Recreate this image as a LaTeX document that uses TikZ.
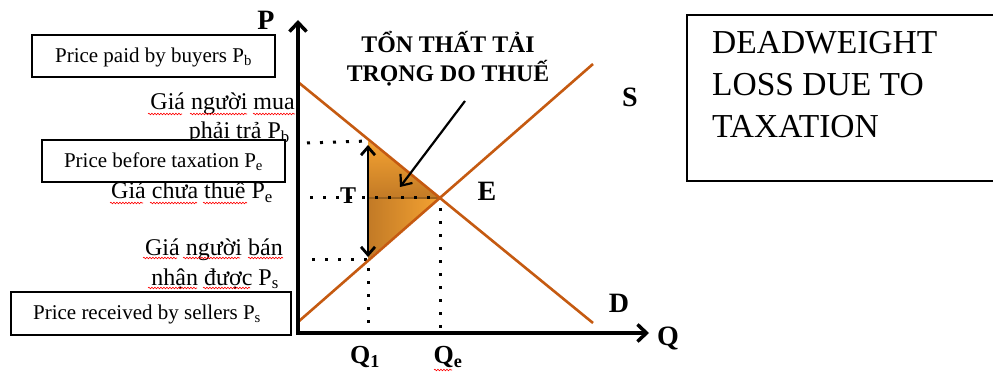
\documentclass[tikz,border=0pt]{standalone}
\usepackage{fontspec}
\setmainfont{Liberation Serif}
\usetikzlibrary{arrows.meta,decorations.pathmorphing}
\definecolor{curve}{HTML}{C55A11}
\definecolor{fillhi}{HTML}{F5A332}
\definecolor{filllo}{HTML}{C27A26}
\tikzset{
  labelbox/.style={draw=black, line width=1.3pt, fill=white},
  axisline/.style={line width=3.5pt, -{Straight Barb[length=9pt,width=17pt,line width=3.5pt]}},
  curveline/.style={draw=curve, line width=2.6pt},
  dotline/.style={line width=3pt, dash pattern=on 3pt off 10pt},
  viet/.style={font=\fontsize{24}{28}\selectfont, inner sep=0pt},
  boxtxt/.style={font=\fontsize{21}{25}\selectfont},
  biglbl/.style={font=\fontsize{28}{32}\selectfont\bfseries, inner sep=0pt},
  squig/.style={draw=red, line width=0.6pt, decorate, decoration={snake, amplitude=0.8pt, segment length=3pt}},
}
\begin{document}
\begin{tikzpicture}[x=1pt,y=-1pt]
\useasboundingbox (0,0) rectangle (993,374);

% key points
\coordinate (O) at (298,333);
\coordinate (Ptop) at (298,20);
\coordinate (Qend) at (649,333);
\coordinate (Dstart) at (298,82);
\coordinate (Dend) at (593,323);
\coordinate (Sstart) at (298,322);
\coordinate (Send) at (593,64);
\coordinate (E) at (440,198);
\coordinate (Pb) at (368,141);
\coordinate (Ps) at (368,259);
\coordinate (Tm) at (368,198);

% Vietnamese texts (drawn first, boxes cover them)
\node[viet, anchor=base east] (vm1) at (295,110) {Giá người mua};
\node[viet, anchor=base east] (vm2) at (290,139) {phải trả P\textsubscript{b}};
\node[viet, anchor=base east] (vc) at (273,199) {Giá chưa thuế P\textsubscript{e}};
\node[viet, anchor=base east] (vb1) at (283,255) {Giá người bán};
\node[viet, anchor=base east] (vb2) at (279,285) {nhận được P\textsubscript{s}};

% spell-check squiggles
\draw[squig] (148,114) -- (182,114);
\draw[squig] (190,114) -- (247,114);
\draw[squig] (253,114) -- (295,114);
\draw[squig] (110,203) -- (143,203);
\draw[squig] (150,203) -- (197,203);
\draw[squig] (203,203) -- (247,203);
\draw[squig] (143,258) -- (177,258);
\draw[squig] (183,258) -- (240,258);
\draw[squig] (248,258) -- (283,258);
\draw[squig] (148,288) -- (197,288);
\draw[squig] (203,288) -- (250,288);
\draw[squig] (434,370) -- (452,370);

% English boxes
\draw[labelbox] (32,35) rectangle (275,77);
\node[boxtxt] (eb) at (153.5,57) {Price paid by buyers P\textsubscript{b}};
\draw[labelbox] (42,140) rectangle (285,182);
\node[boxtxt] (ee) at (163.5,162) {Price before taxation P\textsubscript{e}};
\draw[labelbox] (11,292) rectangle (291,335);
\node[boxtxt] (es) at (147,314) {Price received by sellers P\textsubscript{s}};

\draw[labelbox] (687,15) rectangle (1000,181);
\node[font=\fontsize{33.5}{42}\selectfont, align=left, anchor=north west, inner sep=0pt] (dw) at (712,31) {DEADWEIGHT\\LOSS DUE TO\\TAXATION};

% deadweight triangle
\shade[top color=fillhi, bottom color=filllo] (Pb) -- (E) -- (Tm) -- cycle;
\shade[left color=filllo, right color=fillhi] (Tm) -- (E) -- (Ps) -- cycle;
\draw[color=filllo!80!black, line width=1.5pt] (Tm) -- (E);

% dotted guides
\draw[dotline] (307,143) -- (Pb);
\draw[dotline] (310,198) -- (E);
\draw[dotline] (312,259) -- (Ps);
\draw[dotline] (368,268) -- (368,333);
\draw[dotline] (440,208) -- (440,333);

% curves
\draw[curveline] (Dstart) -- (Dend);
\draw[curveline] (Sstart) -- (Send);

% axes
\draw[axisline] (298,334.75) -- (Ptop);
\draw[axisline] (296.25,333) -- (Qend);

% tax arrow
\draw[line width=2.8pt, {Straight Barb[length=8pt,width=14pt,line width=2.8pt]}-{Straight Barb[length=8pt,width=14pt,line width=2.8pt]}] (368,145) -- (368,257);

% title and pointer
\node[font=\fontsize{23.8}{29}\selectfont\bfseries, align=center] (title) at (448,59) {TỔN THẤT TẢI\\TRỌNG DO THUẾ};
\coordinate (ptr) at (465,101);
\draw[line width=2.2pt, -{Straight Barb[length=9pt,width=15pt,line width=2.2pt]}] (ptr) -- (400,187);

% labels
\node[biglbl] (lP) at (266,20) {P};
\node[biglbl] (lQ) at (668,338) {Q};
\node[biglbl] (lS) at (630,97) {S};
\node[biglbl] (lD) at (619,303) {D};
\node[biglbl] (lE) at (487,191) {E};
\node[font=\fontsize{24}{28}\selectfont\bfseries, inner sep=0pt] (lT) at (348,196) {T};
\node[font=\fontsize{26}{30}\selectfont\bfseries, inner sep=0pt] (lQ1) at (365,357) {Q\textsubscript{1}};
\node[font=\fontsize{26}{30}\selectfont\bfseries, inner sep=0pt] (lQe) at (448,357) {Q\textsubscript{e}};
\end{tikzpicture}
\end{document}
